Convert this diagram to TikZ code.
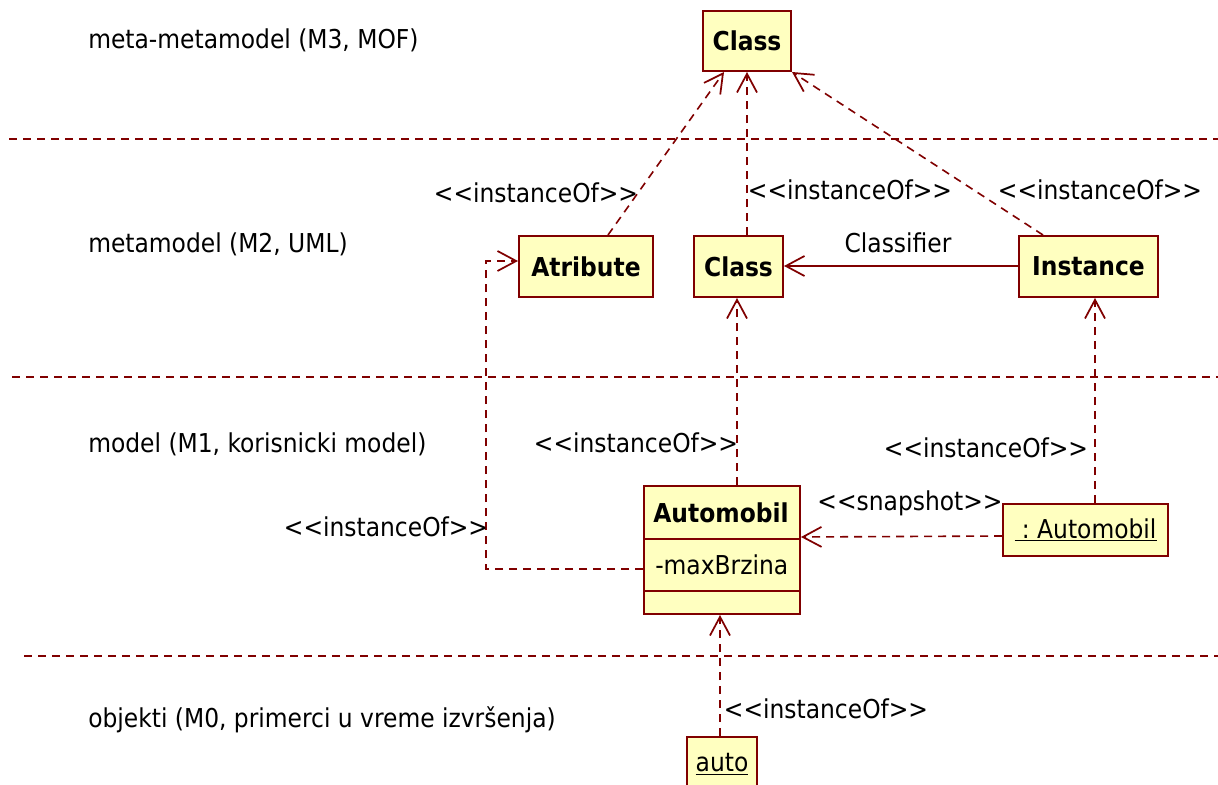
\documentclass[tikz,border=0pt]{standalone}
\usepackage{fontspec}
\setmainfont{DejaVu Sans Condensed}
\usetikzlibrary{arrows.meta,fit}
\definecolor{umlred}{RGB}{128,0,0}
\definecolor{umlfill}{RGB}{255,255,192}
\newcommand{\stlt}{<{}<}
\newcommand{\stgt}{>{}>}
\tikzset{
  box/.style={draw=umlred, fill=umlfill, line width=1.5pt, inner sep=0pt},
  sepline/.style={draw=umlred, line width=1.5pt, dash pattern=on 6pt off 4.5pt},
  dep/.style={draw=umlred, line width=1.2pt, dash pattern=on 6pt off 4.5pt,
    -{Straight Barb[length=14pt,width=15pt,line width=1.3pt]}},
  assoc/.style={draw=umlred, line width=1.2pt,
    -{Straight Barb[length=14pt,width=15pt,line width=1.3pt]}},
  txt/.style={font=\fontsize{19.5}{23}\selectfont, inner sep=0pt},
  btxt/.style={font=\fontsize{19.5}{23}\selectfont\bfseries, inner sep=0pt},
}
\begin{document}
\begin{tikzpicture}[x=0.75pt,y=-0.75pt]
\clip (0,0) rectangle (1218,785);
\fill[white] (0,0) rectangle (1218,785);

% level separators
\draw[sepline] (9,139) -- (1218,139);
\draw[sepline] (12,377) -- (1218,377);
\draw[sepline] (24,656) -- (1218,656);

% level labels
\node[txt, anchor=west] (l3) at (88,40) {meta-metamodel (M3, MOF)};
\node[txt, anchor=west] (l2) at (88,244) {metamodel (M2, UML)};
\node[txt, anchor=west] (l1) at (88,444) {model (M1, korisnicki model)};
\node[txt, anchor=west] (l0) at (88,720) {objekti (M0, primerci u vreme izvršenja)};

% boxes
\node[box, fit={(703,11) (791,71)}] (cls) {};
\node[btxt] (clsT) at (cls.center) {Class};
\node[box, fit={(519,236) (653,297)}] (atr) {};
\node[btxt] (atrT) at (atr.center) {Atribute};
\node[box, fit={(694,236) (783,297)}] (clsB) {};
\node[btxt] (clsBT) at (clsB.center) {Class};
\node[box, fit={(1019,236) (1158,297)}] (inst) {};
\node[btxt] (instT) at (inst.center) {Instance};
\node[box, fit={(644,486) (800,614)}] (autom) {};
\draw[draw=umlred, line width=1.5pt] (autom.west |- 0,539) -- (autom.east |- 0,539);
\draw[draw=umlred, line width=1.5pt] (autom.west |- 0,591) -- (autom.east |- 0,591);
\node[btxt] (automT) at (721,513) {Automobil};
\node[txt, anchor=west] (maxb) at (655,565) {-maxBrzina};
\node[box, fit={(1003,504) (1168,556)}] (obj) {};
\node[txt] (objT) at (obj.center) {\underline{\ :\ Automobil}};
\node[box, fit={(687,737) (757,800)}] (autoo) {};
\node[txt] (autoT) at (722,764) {\underline{auto}};

% connectors
\draw[dep] (atr.north -| 608,0) -- (cls.south -| 724,0);
\draw[dep] (clsB.north -| 747,0) -- (cls.south -| 747,0);
\draw[dep] (inst.north -| 1043,0) -- (cls.south east);
\draw[assoc] (inst.west |- 0,266) -- (clsB.east |- 0,266);
\draw[dep] (autom.north -| 737,0) -- (clsB.south -| 737,0);
\draw[dep] (obj.north -| 1095,0) -- (inst.south -| 1095,0);
\draw[dep] (obj.west |- 0,536) -- (autom.east |- 0,537);
\draw[dep] (autom.west |- 0,569) -- (486,569) |- (atr.west |- 0,261);
\draw[dep] (autoo.north -| 720,0) -- (autom.south -| 720,0);

% connector labels
\node[txt] (lb1) at (536,193) {\stlt instanceOf\stgt};
\node[txt] (lb2) at (850,190) {\stlt instanceOf\stgt};
\node[txt] (lb3) at (1100,190) {\stlt instanceOf\stgt};
\node[txt] (lb4) at (898,243) {Classifier};
\node[txt] (lb5) at (636,443) {\stlt instanceOf\stgt};
\node[txt] (lb6) at (986,448) {\stlt instanceOf\stgt};
\node[txt] (lb7) at (910,503) {\stlt snapshot\stgt};
\node[txt] (lb8) at (386,527) {\stlt instanceOf\stgt};
\node[txt] (lb9) at (826,709) {\stlt instanceOf\stgt};
\end{tikzpicture}
\end{document}
